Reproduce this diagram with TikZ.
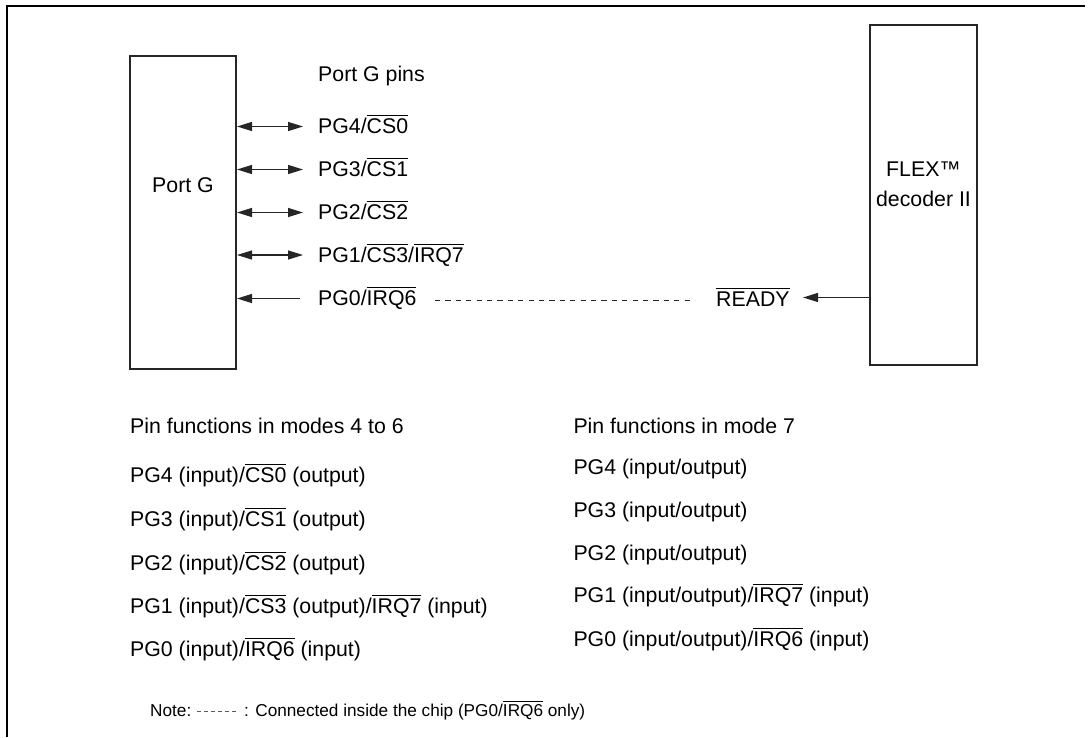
\documentclass[tikz,border=0pt]{standalone}
\usepackage{fontspec}
\setmainfont{Liberation Sans}
\usetikzlibrary{arrows.meta}
\newcommand\ovl[1]{\leavevmode\vbox{\hrule height 1.1pt\kern 2.4pt\hbox{#1}}}
\begin{document}
\begin{tikzpicture}[x=1pt,y=-1pt,
  font=\fontsize{21.3}{25}\selectfont,
  box/.style={draw=black!85, line width=2pt, inner sep=0pt},
  txt/.style={anchor=base west, inner sep=0pt, text=black},
  ctxt/.style={anchor=base, inner sep=0pt, text=black},
  conn/.style={draw=black!85, line width=1.2pt},
  notefont/.style={font=\fontsize{17.2}{20}\selectfont}]
\useasboundingbox (0,0) rectangle (1092,737);
% open frame
\draw[line width=2pt] (7,737) -- (7,6) -- (1085,6);
% boxes
\node[box, minimum width=106pt, minimum height=313.4pt] (pg) at (183,212.3) {};
\node[box, minimum width=106.5pt, minimum height=340pt] (flex) at (923.5,195) {};
\node[ctxt] (pglab) at (183,192.7) {Port G};
\node[ctxt] (flex1) at (923.5,176.7) {FLEX™};
\node[ctxt] (flex2) at (923.5,206.7) {decoder II};
% pin labels
\node[txt] (pins) at (318,81.7) {Port G pins};
\node[txt] (p4) at (318,133.5) {PG4/\ovl{CS0}};
\node[txt] (p3) at (318,176.5) {PG3/\ovl{CS1}};
\node[txt] (p2) at (318,219) {PG2/\ovl{CS2}};
\node[txt] (p1) at (318,262) {PG1/\ovl{CS3}/\ovl{IRQ7}};
\node[txt] (p0) at (318,305.5) {PG0/\ovl{IRQ6}};
\node[txt] (rdy) at (716,306.5) {\ovl{READY}};
% arrow ends
\coordinate (a4) at (303,126.5);
\coordinate (a3) at (303,169.5);
\coordinate (a2) at (303,212.5);
\coordinate (a1) at (303,255);
\coordinate (a0) at (300,298.5);
\coordinate (ar) at (803,297.5);
\coordinate (d1) at (435,300.5);
\coordinate (d2) at (695,300.5);
\draw[conn, {Triangle[length=15pt,width=9pt]}-{Triangle[length=15pt,width=9pt]}] (pg.east |- a4) -- (a4);
\draw[conn, {Triangle[length=15pt,width=9pt]}-{Triangle[length=15pt,width=9pt]}] (pg.east |- a3) -- (a3);
\draw[conn, {Triangle[length=15pt,width=9pt]}-{Triangle[length=15pt,width=9pt]}] (pg.east |- a2) -- (a2);
\draw[conn, {Triangle[length=15pt,width=9pt]}-{Triangle[length=15pt,width=9pt]}] (pg.east |- a1) -- (a1);
\draw[conn, {Triangle[length=15pt,width=9pt]}-] (pg.east |- a0) -- (a0);
\draw[conn, -{Triangle[length=15pt,width=9pt]}] (flex.west |- ar) -- (ar);
\draw[conn, line width=1pt, dash pattern=on 5.2pt off 5.2pt] (d1) -- (d2);
% pin functions, modes 4 to 6
\node[txt] (l0) at (130,433.3) {Pin functions in modes 4 to 6};
\node[txt] (l1) at (130,482.7) {PG4 (input)/\ovl{CS0} (output)};
\node[txt] (l2) at (130,526.7) {PG3 (input)/\ovl{CS1} (output)};
\node[txt] (l3) at (130,570) {PG2 (input)/\ovl{CS2} (output)};
\node[txt] (l4) at (130,613.3) {PG1 (input)/\ovl{CS3} (output)/\ovl{IRQ7} (input)};
\node[txt] (l5) at (130,656.7) {PG0 (input)/\ovl{IRQ6} (input)};
% pin functions, mode 7
\node[txt] (r0) at (573.3,433.3) {Pin functions in mode 7};
\node[txt] (r1) at (573.3,474) {PG4 (input/output)};
\node[txt] (r2) at (573.3,517.3) {PG3 (input/output)};
\node[txt] (r3) at (573.3,560.7) {PG2 (input/output)};
\node[txt] (r4) at (573.3,602.7) {PG1 (input/output)/\ovl{IRQ7} (input)};
\node[txt] (r5) at (573.3,646) {PG0 (input/output)/\ovl{IRQ6} (input)};
% note
\node[txt, notefont] (n1) at (150,716) {Note:};
\coordinate (nd1) at (197,711);
\coordinate (nd2) at (239,711);
\draw[conn, draw=black!65, line width=0.9pt, dash pattern=on 4pt off 3pt] (nd1) -- (nd2);
\node[txt, notefont] (n2) at (244,716) {: Connected inside the chip (PG0/\ovl{IRQ6} only)};
\end{tikzpicture}
\end{document}
